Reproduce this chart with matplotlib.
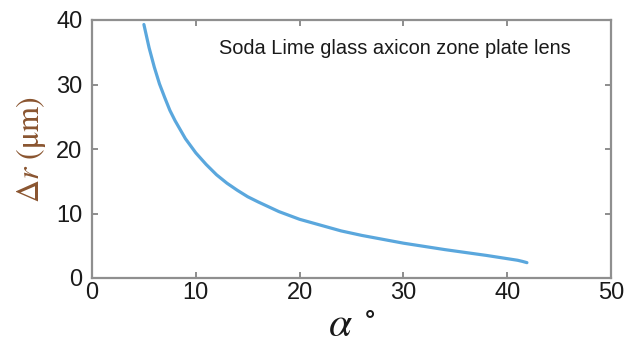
import matplotlib
matplotlib.use("Agg")
import matplotlib.pyplot as plt

# Data
alpha_deg = [5, 5.5, 6, 6.5, 7, 7.5, 8, 9, 10, 11, 12, 13, 14, 15, 16, 18, 20,
             22, 24, 26, 28, 30, 32, 34, 36, 38, 40, 41, 41.5, 41.9]
delta_r_um = [39.3, 35.7, 32.7, 30.1, 28.0, 26.0, 24.4, 21.6, 19.4, 17.6, 16.0,
              14.7, 13.6, 12.6, 11.8, 10.3, 9.1, 8.2, 7.3, 6.6, 6.0, 5.4, 4.9,
              4.4, 3.95, 3.5, 3.0, 2.75, 2.56, 2.38]

x_ticks = [0, 10, 20, 30, 40, 50]
y_ticks = [0, 10, 20, 30, 40]
annotation = "Soda Lime glass axicon zone plate lens"

plt.rcParams['mathtext.fontset'] = 'stix'

fig = plt.figure(figsize=(6.34, 3.54), dpi=100)
ax = fig.add_axes([92/634, 1 - 278/354, (611-92)/634, (278-20)/354])

ax.plot(alpha_deg, delta_r_um, color='#5aa7dd', lw=2.3, solid_capstyle='round')

ax.set_xlim(0, 50)
ax.set_ylim(0, 40)
ax.set_xticks(x_ticks)
ax.set_yticks(y_ticks)

for s in ax.spines.values():
    s.set_color('#8f8f8f')
    s.set_linewidth(1.6)

ax.tick_params(direction='in', length=4, width=1.2, color='#7a7a7a',
               top=True, right=True, labelsize=17, labelcolor='#1a1a1a')
ax.tick_params(axis='y', pad=7)
ax.tick_params(axis='x', pad=3)
for lab in ax.get_xticklabels() + ax.get_yticklabels():
    lab.set_fontfamily('Liberation Sans')

ax.text(12.2, 35.6, annotation, fontsize=14.4, family='Liberation Sans',
        color='#1a1a1a', va='center', ha='left')

ax.set_xlabel(r'$\alpha$ $^{\circ}$', fontsize=30, color='#1a1a1a', labelpad=0)
ax.set_ylabel(r'$\Delta r$ (μm)', fontsize=23, color='#8a5530',
              family='STIXGeneral', labelpad=6)

fig.savefig('out.png', dpi=100)
